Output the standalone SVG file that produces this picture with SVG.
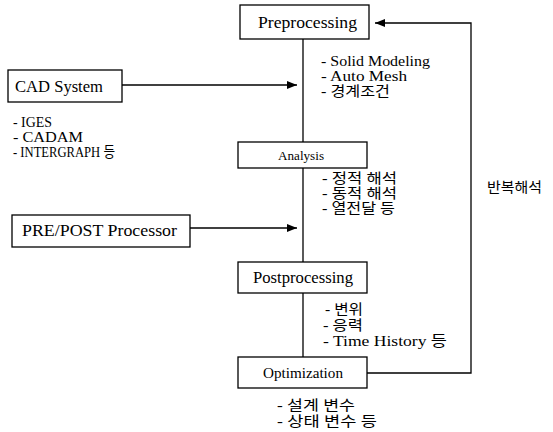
<svg xmlns="http://www.w3.org/2000/svg" width="553" height="432" viewBox="0 0 553 432">
<style>
.box{fill:#fff;stroke:#000;stroke-width:1.3}
.ln{fill:none;stroke:#000;stroke-width:1.3}
</style>
<defs>
<marker id="ah" viewBox="0 0 10 8" refX="10" refY="4" markerWidth="10" markerHeight="8" markerUnits="userSpaceOnUse" orient="auto">
<path d="M0,0 L10,4 L0,8 Z" fill="#000"/>
</marker>
</defs>
<g id="connectors">
<line class="ln" x1="303" y1="39" x2="303" y2="357"/>
<line class="ln" x1="122" y1="85" x2="297" y2="85" marker-end="url(#ah)"/>
<line class="ln" x1="190" y1="228" x2="297" y2="228" marker-end="url(#ah)"/>
<polyline class="ln" points="367,373 471,373 471,23 375,23" marker-end="url(#ah)"/>
</g>
<g font-family="Liberation Serif, Noto Sans CJK KR, serif" font-size="16" fill="#000">
<g id="preprocessing">
<rect class="box" x="240" y="5" width="129" height="34"/>
<text x="258" y="28" textLength="99" lengthAdjust="spacingAndGlyphs" font-size="17.5">Preprocessing</text>
</g>
<g id="cad">
<rect class="box" x="8" y="70" width="114" height="32"/>
<text x="15" y="92" textLength="88" lengthAdjust="spacingAndGlyphs" font-size="16.5">CAD System</text>
</g>
<g id="analysis">
<rect class="box" x="238" y="142" width="129" height="26"/>
<text x="278" y="160" textLength="46" lengthAdjust="spacingAndGlyphs" font-size="13.5">Analysis</text>
</g>
<g id="prepost">
<rect class="box" x="12" y="215" width="178" height="32"/>
<text x="22" y="236" textLength="155" lengthAdjust="spacingAndGlyphs" font-size="17.5">PRE/POST Processor</text>
</g>
<g id="postprocessing">
<rect class="box" x="238" y="262" width="129" height="31"/>
<text x="253" y="283" textLength="100" lengthAdjust="spacingAndGlyphs" font-size="16.5">Postprocessing</text>
</g>
<g id="optimization">
<rect class="box" x="238" y="357" width="129" height="31"/>
<text x="263" y="378" textLength="80" lengthAdjust="spacingAndGlyphs" font-size="15">Optimization</text>
</g>
<g id="labels" font-size="14">
<text x="321" y="66" textLength="109" lengthAdjust="spacingAndGlyphs" font-size="15">- Solid Modeling</text>
<text x="321" y="81" textLength="86" lengthAdjust="spacingAndGlyphs" font-size="15">- Auto Mesh</text>
<text x="321" y="96" textLength="69" lengthAdjust="spacingAndGlyphs">- 경계조건</text>
<text x="13" y="127" textLength="39" lengthAdjust="spacingAndGlyphs" font-size="15">- IGES</text>
<text x="13" y="142" textLength="70" lengthAdjust="spacingAndGlyphs" font-size="15">- CADAM</text>
<text x="13" y="157" textLength="102" lengthAdjust="spacingAndGlyphs" font-size="15">- INTERGRAPH 등</text>
<text x="322" y="183" textLength="75" lengthAdjust="spacingAndGlyphs">- 정적 해석</text>
<text x="322" y="198" textLength="75" lengthAdjust="spacingAndGlyphs">- 동적 해석</text>
<text x="322" y="213" textLength="73" lengthAdjust="spacingAndGlyphs">- 열전달 등</text>
<text x="487" y="192" textLength="55" lengthAdjust="spacingAndGlyphs">반복해석</text>
<text x="325" y="314" textLength="38" lengthAdjust="spacingAndGlyphs">- 변위</text>
<text x="323" y="330" textLength="40" lengthAdjust="spacingAndGlyphs">- 응력</text>
<text x="323" y="346" textLength="124" lengthAdjust="spacingAndGlyphs" font-size="15">- Time History 등</text>
<text x="277" y="410" textLength="78" lengthAdjust="spacingAndGlyphs">- 설계 변수</text>
<text x="277" y="426" textLength="100" lengthAdjust="spacingAndGlyphs">- 상태 변수 등</text>
</g>
</g>
</svg>
